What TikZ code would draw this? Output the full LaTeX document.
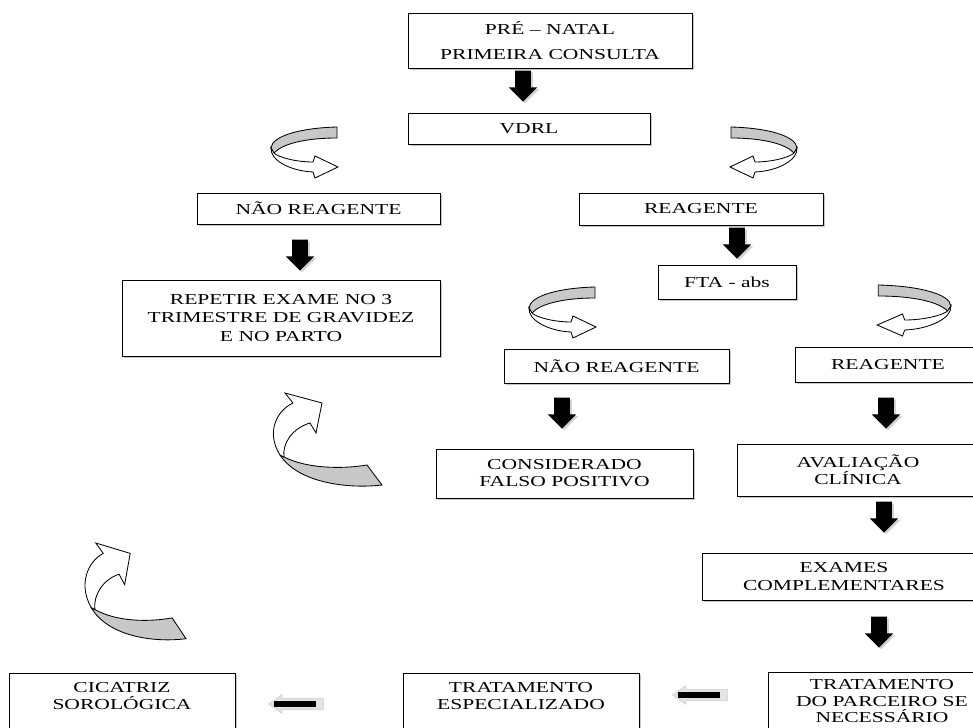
\documentclass[tikz,border=0pt]{standalone}
\usepackage{fontspec}
\setmainfont{Liberation Serif}[FakeStretch=1.42]
\usepackage{tikz}
\usetikzlibrary{positioning,calc,shapes.arrows,shadows}
\definecolor{RibbonGray}{HTML}{C8C8C8}
\definecolor{ArrowGray}{HTML}{E4E4E4}

\begin{document}
\begin{tikzpicture}[x=0.025cm, y=-0.025cm, font=\fontsize{10.8}{12.2}\selectfont]
\tikzset{box/.style={draw=black, line width=0.7pt, fill=white, inner sep=0pt, align=center, drop shadow={shadow xshift=1.2pt, shadow yshift=-1.2pt, opacity=.45}}, wh/.style 2 args={minimum width=#1*0.025cm, minimum height=#2*0.025cm}, dnarr/.style={single arrow, shape border rotate=270, fill=black, inner sep=5.4pt, minimum height=22pt, single arrow head extend=4.5pt, anchor=tip, drop shadow={shadow xshift=1.5pt, shadow yshift=-1.2pt, opacity=.35}}, lfarr/.style={single arrow, shape border rotate=180, fill=ArrowGray, draw=black!20, inner sep=3.8pt, minimum height=39pt, single arrow head extend=2.6pt, single arrow tip angle=70, anchor=tip}}
\tikzset{uturn/.pic={\filldraw[fill=RibbonGray, line width=0.6pt] (67,0) .. controls (30,1) and (2,9) .. (1,21) -- (4,26) .. controls (12,17) and (35,11) .. (67,11) -- cycle; \filldraw[fill=white, line width=0.6pt] (1,21) .. controls (0,33) and (20,44) .. (43,45) -- (45,51) -- (68,40) -- (45,29) -- (43,35) .. controls (25,35) and (8,30) .. (4,26) -- cycle;}, hook/.pic={\filldraw[fill=RibbonGray, line width=0.6pt] (12,62) -- (16,64) .. controls (40,76) and (75,76) .. (99,72) -- (114,92) .. controls (80,96) and (30,90) .. (12,62) -- cycle; \filldraw[fill=white, line width=0.6pt] (12,62) .. controls (-2,40) and (8,18) .. (25,10) -- (17,0) -- (54,10) -- (48,40) -- (42,30) .. controls (25,35) and (14,50) .. (16,64) -- cycle;}}
\useasboundingbox (0,0) rectangle (973,728);
\clip (0,0) rectangle (973,728);
\fill[white] (0,0) rectangle (973,728);
% caixas
\node[box, wh={284}{55}] (prenatal) at (550,40.5) {PRÉ – NATAL\\[6pt]PRIMEIRA CONSULTA};
\node[box, wh={242}{31}] (vdrl) at (529,128.5) {VDRL};
\node[box, wh={243}{31}] (naoreag) at (318.5,208.5) {NÃO REAGENTE};
\node[box, wh={244}{32}] (reag) at (701,209) {REAGENTE};
\node[box, wh={318}{76}] (repetir) at (281,318) {REPETIR EXAME NO 3\\[1pt]TRIMESTRE DE GRAVIDEZ\\[1pt]E NO PARTO};
\node[box, wh={138}{34}] (fta) at (727,282) {FTA - abs};
\node[box, wh={225}{34}] (ftanao) at (616.5,366) {NÃO REAGENTE};
\node[box, wh={186}{35}] (ftareag) at (888,364.5) {REAGENTE};
\node[box, wh={257}{49}] (falso) at (564.5,473.5) {CONSIDERADO\\FALSO POSITIVO};
\node[box, wh={242}{52}] (clinica) at (858,470) {AVALIAÇÃO\\CLÍNICA};
\node[box, wh={284}{47}] (exames) at (844,576.5) {EXAMES\\COMPLEMENTARES};
\node[box, wh={228}{118}] (parceiro) at (882,731) {\parbox[c][73pt][t]{160pt}{\centering\baselineskip=11.8pt TRATAMENTO\\DO PARCEIRO SE\\NECESSÁRIO}};
\node[box, wh={236}{117}] (especial) at (521,731.5) {\parbox[c][70pt][t]{160pt}{\centering TRATAMENTO\\ESPECIALIZADO}};
\node[box, wh={226}{117}] (cicatriz) at (122,731.5) {\parbox[c][70pt][t]{160pt}{\centering CICATRIZ\\SOROLÓGICA}};
% setas pretas
\node[dnarr] (a1) at (523,102) {};
\node[dnarr] (a2) at (300,271) {};
\node[dnarr] (a3) at (737,259) {};
\node[dnarr] (a4) at (562,429) {};
\node[dnarr] (a5) at (886,429) {};
\node[dnarr] (a6) at (884,533) {};
\node[dnarr] (a7) at (879,648) {};
\node[lfarr] (la1) at (268,704) {}; \fill[black] ($(la1.tip)+(6,-3)$) rectangle ($(la1.tail)+(-8,3)$);
\node[lfarr] (la2) at (672,695) {}; \fill[black] ($(la2.tip)+(6,-3)$) rectangle ($(la2.tail)+(-8,3)$);
% setas curvas
\pic at (270,127) {uturn};
\pic[xscale=-1] at (798,127) {uturn};
\pic at (528,287) {uturn};
\pic[xscale=-1.1] at (952,285) {uturn};
\pic at (268,393) {hook};
\pic[xscale=.93, yscale=1.04] at (80,543) {hook};
\end{tikzpicture}
\end{document}
